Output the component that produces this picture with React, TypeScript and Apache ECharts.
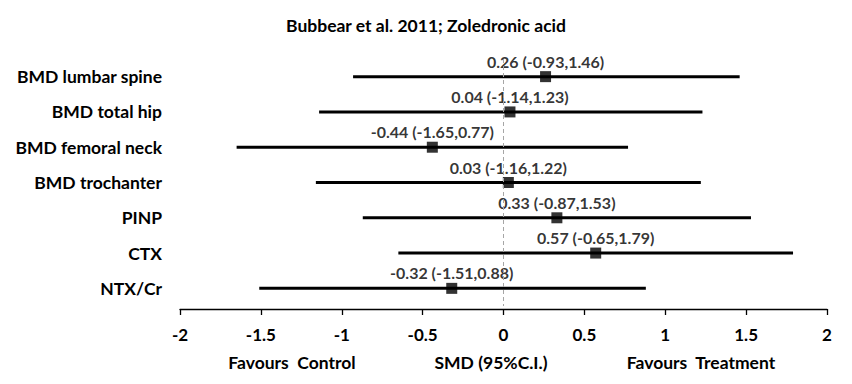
import React, { useEffect, useRef } from "react";
import * as echarts from "echarts";

const titleText = "Bubbear et al. 2011; Zoledronic acid";
const categories = [
  "BMD lumbar spine",
  "BMD total hip",
  "BMD femoral neck",
  "BMD trochanter",
  "PINP",
  "CTX",
  "NTX/Cr",
];
const estimates = [0.26, 0.04, -0.44, 0.03, 0.33, 0.57, -0.32];
const lowers = [-0.93, -1.14, -1.65, -1.16, -0.87, -0.65, -1.51];
const uppers = [1.46, 1.23, 0.77, 1.22, 1.53, 1.79, 0.88];
const xTicks = [-2, -1.5, -1, -0.5, 0, 0.5, 1, 1.5, 2];
const axisName = "SMD (95%C.I.)";
const leftNote = "Favours  Control";
const rightNote = "Favours  Treatment";

const FONT = "Lato, 'Open Sans', sans-serif";

export default function App() {
  const ref = useRef<HTMLDivElement>(null);
  useEffect(() => {
    if (!ref.current) return;
    const chart = echarts.init(ref.current, null, { renderer: "svg" });
    const fmt = (v: number) => v.toFixed(2);
    chart.setOption({
      animation: false,
      backgroundColor: "#ffffff",
      textStyle: { fontFamily: FONT },
      grid: { left: 180, right: 25, top: 59, height: 247 },
      xAxis: {
        type: "value",
        min: -2,
        max: 2,
        interval: 0.5,
        offset: 3,
        splitLine: { show: false },
        axisLine: { show: true, lineStyle: { color: "#000", width: 1.3 } },
        axisTick: { show: true, length: 6, lineStyle: { color: "#000", width: 1.3 } },
        axisLabel: {
          margin: 17,
          fontFamily: FONT,
          fontSize: 17,
          fontWeight: "bold",
          color: "#000",
          formatter: (v: number) => (xTicks.includes(v) ? String(v) : ""),
        },
      },
      yAxis: {
        type: "category",
        data: categories,
        inverse: true,
        axisLine: { show: false },
        axisTick: { show: false },
        splitLine: { show: false },
        axisLabel: {
          margin: 18,
          fontFamily: FONT,
          fontSize: 17.5,
          fontWeight: "bold",
          color: "#000",
          padding: [4, 0, 0, 0],
        },
      },
      graphic: [
        {
          type: "text",
          x: 426,
          y: 25,
          style: {
            text: titleText,
            font: `bold 17.5px ${FONT}`,
            fill: "#000",
            align: "center",
            verticalAlign: "middle",
          },
        },
        {
          type: "text",
          x: 292,
          y: 362,
          style: { text: leftNote, font: `bold 17.5px ${FONT}`, fill: "#000", align: "center", verticalAlign: "middle" },
        },
        {
          type: "text",
          x: 491,
          y: 362,
          style: { text: axisName, font: `bold 17.5px ${FONT}`, fill: "#000", align: "center", verticalAlign: "middle" },
        },
        {
          type: "text",
          x: 701,
          y: 362,
          style: { text: rightNote, font: `bold 17.5px ${FONT}`, fill: "#000", align: "center", verticalAlign: "middle" },
        },
      ],
      series: [
        {
          type: "custom",
          silent: true,
          data: categories.map((c, i) => [c, lowers[i], uppers[i]]),
          encode: { y: 0, x: [1, 2] },
          renderItem: (params: any, api: any) => {
            const cat = api.value(0);
            const p1 = api.coord([api.value(1), cat]);
            const p2 = api.coord([api.value(2), cat]);
            return {
              type: "line",
              shape: { x1: p1[0], y1: p1[1], x2: p2[0], y2: p2[1] },
              style: { stroke: "#000", lineWidth: 3 },
            };
          },
          z: 2,
        },
        {
          type: "scatter",
          symbol: "rect",
          symbolSize: 11,
          itemStyle: { color: "#000" },
          data: categories.map((c, i) => [estimates[i], c]),
          label: {
            show: true,
            position: "top",
            distance: 2,
            fontFamily: FONT,
            fontSize: 16,
            fontWeight: "bold",
            color: "#000",
            formatter: (p: any) => {
              const i = p.dataIndex;
              return `${fmt(estimates[i])} (${fmt(lowers[i])},${fmt(uppers[i])})`;
            },
          },
          markLine: {
            silent: true,
            symbol: "none",
            label: { show: false },
            lineStyle: { color: "#a6a6a6", type: [4, 3], width: 1 },
            data: [{ xAxis: 0 }],
          },
          z: 3,
        },
      ],
    });
    return () => chart.dispose();
  }, []);
  return (
    <div
      ref={ref}
      style={{ position: "absolute", left: 0, top: 0, width: 852, height: 384 }}
    />
  );
}
